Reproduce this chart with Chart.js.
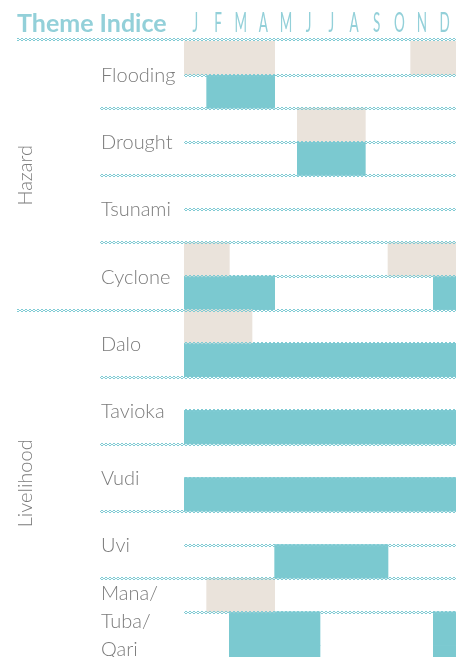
<!DOCTYPE html>
<html>
<head>
<meta charset="utf-8">
<script src="https://cdn.jsdelivr.net/npm/chart.js@4"></script>
<style>
  html, body { margin: 0; padding: 0; background: #fff; overflow: hidden; }
  canvas { display: block; }
</style>
</head>
<body>
<canvas id="calendar" width="465" height="681"></canvas>
<script>
// ---- data ----
const months = ["J", "F", "M", "A", "M", "J", "J", "A", "S", "O", "N", "D"];
const themes = ["Flooding", "Drought", "Tsunami", "Cyclone", "Dalo", "Tavioka", "Vudi", "Uvi", "Mana/\nTuba/\nQari"];
const groups = ["Hazard", "Livelihood"];
const groupSizes = [4, 5];

// month spans [start, end) – upper (beige) band and lower (teal) band of each row
const beigeSpans = [
  [[0, 4], [10, 12]], // Flooding
  [[5, 8]],           // Drought
  [],                 // Tsunami
  [[0, 2], [9, 12]],  // Cyclone
  [[0, 3]],           // Dalo
  [],                 // Tavioka
  [],                 // Vudi
  [],                 // Uvi
  [[1, 4]]            // Mana/Tuba/Qari
];
const tealSpans = [
  [[1, 4]],
  [[5, 8]],
  [],
  [[0, 4], [11, 12]],
  [[0, 12]],
  [[0, 12]],
  [[0, 12]],
  [[4, 9]],
  [[2, 6], [11, 12]]
];

const TEAL = "#7bc9d0";
const BEIGE = "#eae3db";
const HEAD = "#93d0d9";
const GREY = "#7b7b7b";

// two sub-bands per theme; the last row runs off the bottom of the page
const bands = [];
themes.forEach((t, i) => {
  bands.push({ theme: i, kind: "beige" });
  bands.push({ theme: i, kind: "teal" });
});
bands.push({ theme: themes.length - 1, kind: "teal" });

function spanData(kind, k) {
  const src = kind === "beige" ? beigeSpans : tealSpans;
  return bands.map((b) => (b.kind === kind && src[b.theme][k] ? src[b.theme][k] : null));
}

function makeDataset(kind, k) {
  return {
    data: spanData(kind, k),
    backgroundColor: kind === "beige" ? BEIGE : TEAL,
    borderWidth: 0,
    grouped: false,
    barPercentage: 1,
    categoryPercentage: 1
  };
}

// little chain pattern for the row rules
const tile = document.createElement("canvas");
tile.width = 4;
tile.height = 3;
const tctx = tile.getContext("2d");
tctx.fillStyle = "#80cbd4";
tctx.fillRect(1, 0, 2, 1);
tctx.fillRect(0, 1, 1, 1);
tctx.fillRect(3, 1, 1, 1);
tctx.fillRect(1, 2, 2, 1);

function chain(ctx, x1, x2, y) {
  ctx.save();
  ctx.translate(0, Math.round(y) - 1);
  ctx.fillStyle = ctx.createPattern(tile, "repeat");
  ctx.fillRect(Math.round(x1), 0, Math.round(x2 - x1), 3);
  ctx.restore();
}

const decor = {
  id: "decor",
  afterDatasetsDraw(chart) {
    const ctx = chart.ctx;
    const area = chart.chartArea;
    const xs = chart.scales.x;
    const bandH = (area.bottom - area.top) / bands.length;
    const top = (j) => area.top + j * bandH;
    const visibleBottom = 657;

    // title + months
    ctx.save();
    ctx.fillStyle = HEAD;
    ctx.textBaseline = "alphabetic";
    ctx.font = "bold 25px Lato";
    ctx.fillText("Theme Indice", 17, 32);
    ctx.font = "27px Lato";
    ctx.textAlign = "center";
    months.forEach((m, i) => {
      ctx.save();
      ctx.translate(xs.getPixelForValue(i + 0.5), 32);
      ctx.scale(0.5, 1);
      ctx.fillText(m, 0, 0);
      ctx.restore();
    });
    ctx.restore();

    // header rule
    chain(ctx, 17, area.right, area.top - 2);

    // rules and labels per theme
    let groupStart = 0;
    let g = 0;
    themes.forEach((t, i) => {
      const rowTop = top(i * 2);
      const mid = top(i * 2 + 1);
      if (i > 0) {
        chain(ctx, i === groupStart ? 17 : 100, area.right, rowTop);
      }
      chain(ctx, area.left, area.right, mid);

      ctx.save();
      ctx.fillStyle = GREY;
      ctx.font = "300 20px Lato";
      ctx.textBaseline = "middle";
      const lines = t.split("\n");
      if (lines.length === 1) {
        ctx.fillText(t, 101, mid + 1);
      } else {
        lines.forEach((ln, k) => ctx.fillText(ln, 101, rowTop + 15 + k * 28));
      }
      ctx.restore();

      if (i === groupStart + groupSizes[g] - 1) {
        groupStart += groupSizes[g];
        g++;
      }
    });

    // group labels, rotated
    let start = 0;
    groups.forEach((name, k) => {
      const y1 = top(start * 2);
      const end = start + groupSizes[k];
      const y2 = end >= themes.length ? visibleBottom : top(end * 2);
      ctx.save();
      ctx.fillStyle = GREY;
      ctx.font = "300 20px Lato";
      ctx.textAlign = "center";
      ctx.textBaseline = "middle";
      ctx.translate(26, (y1 + y2) / 2);
      ctx.rotate(-Math.PI / 2);
      ctx.fillText(name, 0, 0);
      ctx.restore();
      start = end;
    });
  }
};

new Chart(document.getElementById("calendar"), {
  type: "bar",
  data: {
    labels: bands.map((b, j) => j),
    datasets: [
      makeDataset("beige", 0),
      makeDataset("beige", 1),
      makeDataset("teal", 0),
      makeDataset("teal", 1)
    ]
  },
  options: {
    indexAxis: "y",
    responsive: false,
    devicePixelRatio: 1,
    animation: false,
    layout: { padding: { left: 184, right: 9, top: 41, bottom: 2 } },
    scales: {
      x: { type: "linear", min: 0, max: 12, display: false },
      y: { display: false }
    },
    plugins: {
      legend: { display: false },
      tooltip: { enabled: false }
    }
  },
  plugins: [decor]
});
</script>
</body>
</html>
